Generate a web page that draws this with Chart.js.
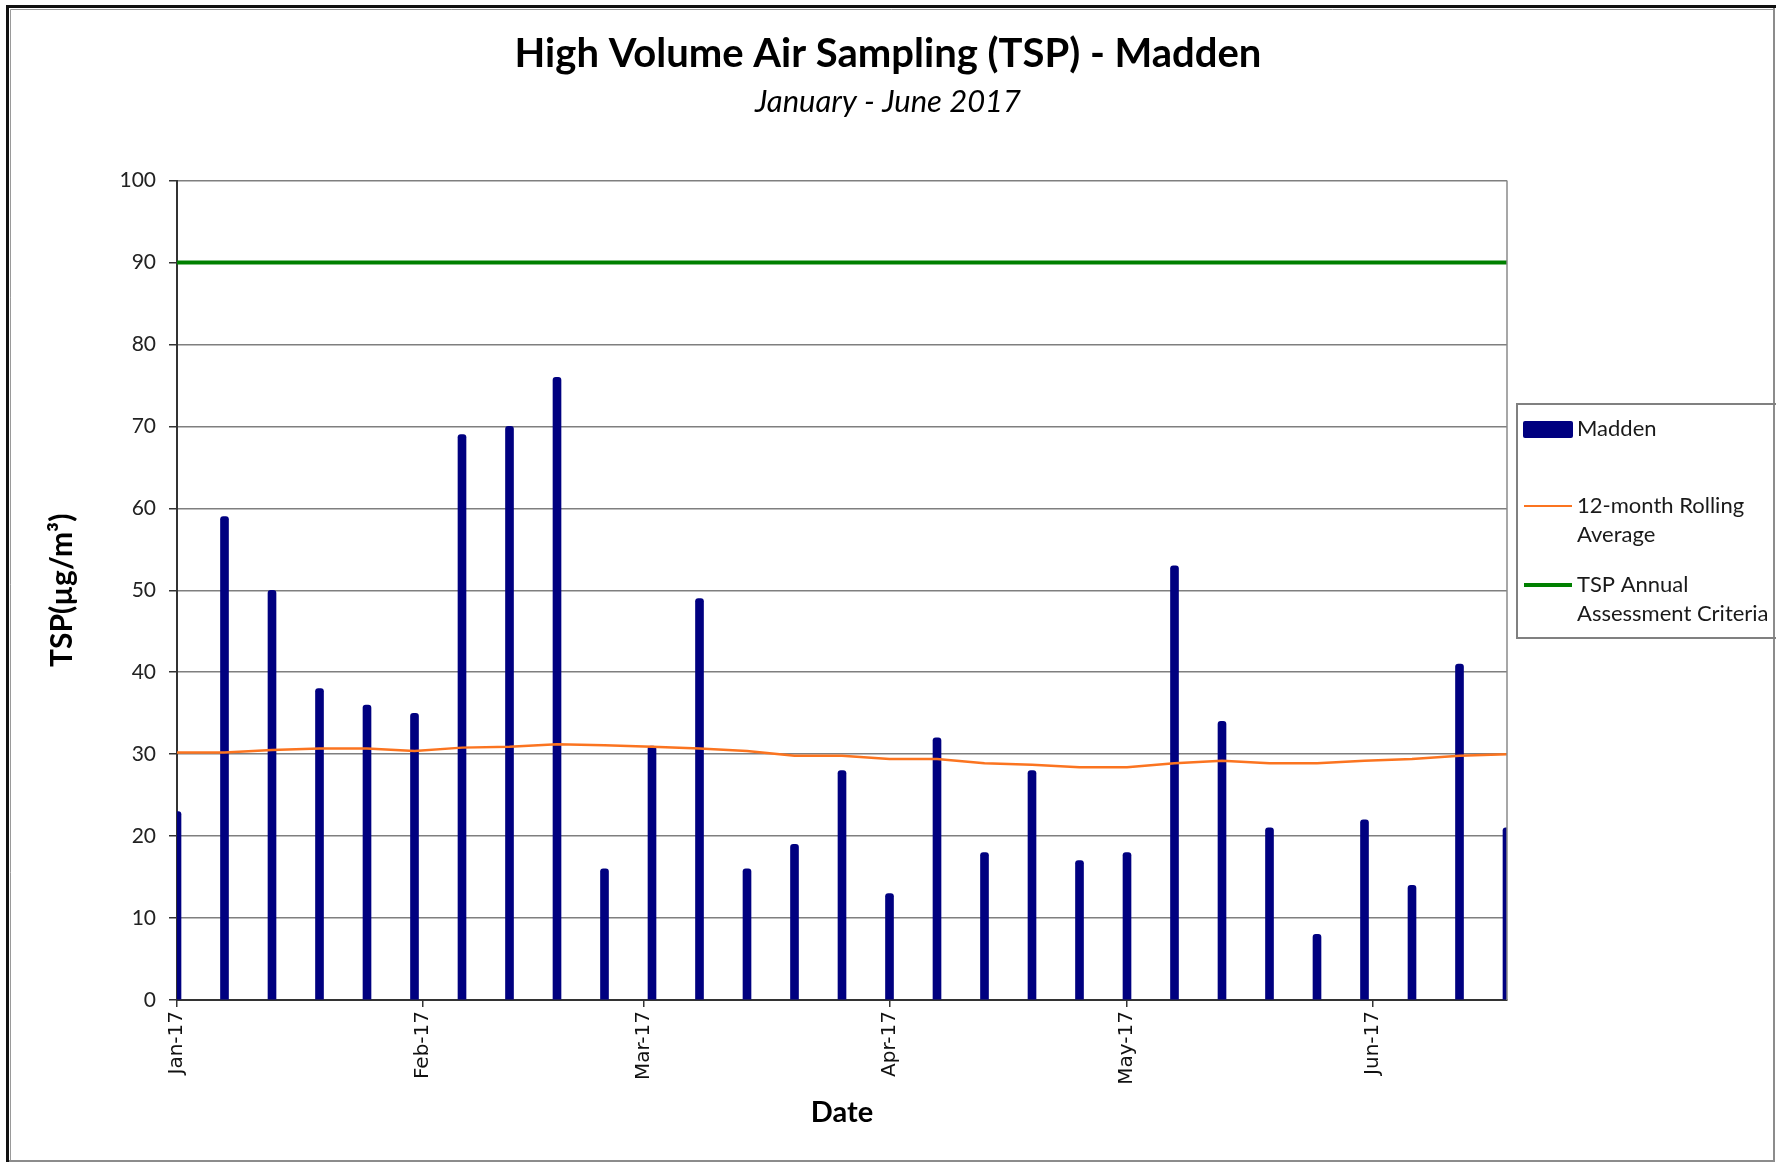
<!DOCTYPE html>
<html>
<head>
<meta charset="utf-8">
<script src="https://cdn.jsdelivr.net/npm/chart.js@4.4.1/dist/chart.umd.min.js"></script>
<style>
  html, body { margin: 0; padding: 0; background: #fff; }
  #wrap { position: relative; width: 1776px; height: 1163px; }
</style>
</head>
<body>
<div id="wrap"><canvas id="c"></canvas></div>
<script>
// ---- data ----
const sampleDates = ['2017-01-01','2017-01-07','2017-01-13','2017-01-19','2017-01-25','2017-01-31',
  '2017-02-06','2017-02-12','2017-02-18','2017-02-24','2017-03-02','2017-03-08','2017-03-14',
  '2017-03-20','2017-03-26','2017-04-01','2017-04-07','2017-04-13','2017-04-19','2017-04-25',
  '2017-05-01','2017-05-07','2017-05-13','2017-05-19','2017-05-25','2017-05-31','2017-06-06',
  '2017-06-12','2017-06-18'];
const maddenTSP = [23,59,50,38,36,35,69,70,76,16,31,49,16,19,28,13,32,18,28,17,18,53,34,21,8,22,14,41,21];
const rollingAvg = [30.2,30.2,30.5,30.7,30.7,30.4,30.8,30.9,31.2,31.1,30.9,30.7,30.4,29.8,29.8,
  29.4,29.4,28.9,28.7,28.4,28.4,28.9,29.2,28.9,28.9,29.2,29.4,29.8,30.0];
const criteriaValue = 90;
const monthTickDates = ['2017-01-01','2017-02-01','2017-03-01','2017-04-01','2017-05-01','2017-06-01'];
const monthTickLabels = ['Jan-17','Feb-17','Mar-17','Apr-17','May-17','Jun-17'];
const seriesNames = ['Madden', '12-month Rolling Average', 'TSP Annual Assessment Criteria'];
const legendLines = [['Madden'], ['12-month Rolling', 'Average'], ['TSP Annual', 'Assessment Criteria']];

// ---- helpers ----
const base = Date.UTC(2017, 0, 1);
function dayOf(s) {
  const p = s.split('-').map(Number);
  return (Date.UTC(p[0], p[1] - 1, p[2]) - base) / 86400000;
}
const xs = sampleDates.map(dayOf);
const monthTicks = monthTickDates.map(dayOf);
const xMin = xs[0], xMax = xs[xs.length - 1];

const NAVY = '#000080', ORANGE = '#fb7420', GREEN = '#008000';
const SANS = 'Lato, "Open Sans", sans-serif';

const framePlugin = {
  id: 'frame',
  beforeDraw(chart) {
    const ctx = chart.ctx;
    ctx.save();
    ctx.fillStyle = '#fff';
    ctx.fillRect(0, 0, chart.width, chart.height);
    ctx.restore();
  },
  afterDatasetsDraw(chart) {
    const ctx = chart.ctx, a = chart.chartArea;
    ctx.save();
    ctx.strokeStyle = '#8a8a8a';
    ctx.lineWidth = 1.5;
    ctx.beginPath();
    ctx.moveTo(a.right, a.top);
    ctx.lineTo(a.right, a.bottom);
    ctx.stroke();
    ctx.restore();
  },
  afterDraw(chart) {
    const ctx = chart.ctx;
    ctx.save();
    // outer frame
    ctx.strokeStyle = '#8c8c8c';
    ctx.lineWidth = 2;
    ctx.beginPath();
    ctx.moveTo(8, 1161); ctx.lineTo(1774, 1161); ctx.lineTo(1774, 7);
    ctx.stroke();
    ctx.strokeStyle = '#111';
    ctx.lineWidth = 3;
    ctx.beginPath();
    ctx.moveTo(7.5, 1162); ctx.lineTo(7.5, 6.5); ctx.lineTo(1776, 6.5);
    ctx.stroke();
    ctx.strokeStyle = '#9a9a9a';
    ctx.lineWidth = 1;
    ctx.beginPath();
    ctx.moveTo(10.5, 1160); ctx.lineTo(10.5, 9.5); ctx.lineTo(1773, 9.5);
    ctx.stroke();

    // legend
    const ds = chart.data.datasets;
    ctx.strokeStyle = '#808080';
    ctx.lineWidth = 2;
    ctx.strokeRect(1517, 404, 300, 234);
    ctx.font = '22px ' + SANS;
    ctx.textBaseline = 'middle';
    ctx.textAlign = 'left';
    const rowY = [429, 506, 585];
    const lh = 29;
    for (let i = 0; i < ds.length; i++) {
      const y = rowY[i];
      if (i === 0) {
        ctx.fillStyle = ds[0].backgroundColor;
        ctx.beginPath();
        ctx.roundRect(1523, y - 8, 50, 17, 2);
        ctx.fill();
      } else {
        ctx.strokeStyle = ds[i].borderColor;
        ctx.lineWidth = i === 2 ? 4 : 2;
        ctx.beginPath();
        ctx.moveTo(1524, y); ctx.lineTo(1572, y);
        ctx.stroke();
      }
      ctx.fillStyle = '#1a1a1a';
      legendLines[i].forEach((t, k) => ctx.fillText(t, 1577, y + k * lh));
    }
    ctx.restore();
  }
};

new Chart(document.getElementById('c'), {
  type: 'bar',
  data: {
    datasets: [
      {
        type: 'bar',
        label: seriesNames[0],
        data: xs.map((x, i) => ({ x: x, y: maddenTSP[i] })),
        backgroundColor: NAVY,
        borderColor: NAVY,
        barThickness: 8,
        borderRadius: { topLeft: 3, topRight: 3, bottomLeft: 0, bottomRight: 0 },
        borderSkipped: 'bottom',
        order: 2
      },
      {
        type: 'line',
        label: seriesNames[1],
        data: xs.map((x, i) => ({ x: x, y: rollingAvg[i] })),
        borderColor: ORANGE,
        backgroundColor: ORANGE,
        borderWidth: 2.5,
        pointRadius: 0,
        tension: 0,
        order: 1
      },
      {
        type: 'line',
        label: seriesNames[2],
        data: [{ x: xMin, y: criteriaValue }, { x: xMax, y: criteriaValue }],
        borderColor: GREEN,
        backgroundColor: GREEN,
        borderWidth: 4,
        pointRadius: 0,
        order: 0
      }
    ]
  },
  options: {
    responsive: true,
    maintainAspectRatio: false,
    animation: false,
    layout: { padding: 0 },
    plugins: {
      legend: { display: false },
      tooltip: { enabled: false },
      title: {
        display: true,
        text: 'High Volume Air Sampling (TSP) - Madden',
        color: '#000',
        font: { family: SANS, size: 40, weight: 'bold', lineHeight: 1.2 },
        padding: { top: 30, bottom: 5 }
      },
      subtitle: {
        display: true,
        text: 'January - June 2017',
        color: '#000',
        font: { family: SANS, size: 31, style: 'italic', lineHeight: 1.2 },
        padding: { top: 0, bottom: 60.4 }
      }
    },
    scales: {
      x: {
        type: 'linear',
        min: xMin,
        max: xMax,
        offset: false,
        afterFit(s) { s.height = 163; },
        afterBuildTicks(s) { s.ticks = monthTicks.map(v => ({ value: v })); },
        ticks: {
          autoSkip: false,
          minRotation: 90,
          maxRotation: 90,
          padding: 4,
          color: '#111',
          font: { family: '"DejaVu Sans", sans-serif', size: 20 },
          callback(v) {
            const k = monthTicks.indexOf(v);
            return k >= 0 ? monthTickLabels[k] : '';
          }
        },
        grid: { offset: false, drawOnChartArea: false, drawTicks: true, tickLength: 7, tickColor: '#333', lineWidth: 1.5 },
        border: { display: true, color: '#333', width: 2 },
        title: {
          display: true,
          text: 'Date',
          color: '#000',
          font: { family: SANS, size: 29, weight: 'bold', lineHeight: 1.2 },
          padding: { top: 0, bottom: 33 }
        }
      },
      y: {
        min: 0,
        max: 100,
        afterFit(s) { s.width = 177; },
        ticks: {
          stepSize: 10,
          padding: 13,
          color: '#222',
          font: { family: SANS, size: 21 }
        },
        grid: { color: '#7f7f7f', lineWidth: 1.5, tickLength: 8, tickColor: '#333' },
        border: { display: true, color: '#333', width: 2 },
        title: {
          display: true,
          text: 'TSP(µg/m³)',
          color: '#000',
          font: { family: SANS, size: 30, weight: 'bold', lineHeight: 1.2 },
          padding: { top: 44, bottom: 0 }
        }
      },
      yRight: {
        type: 'linear',
        position: 'right',
        display: true,
        min: 0,
        max: 100,
        afterFit(s) { s.width = 269; },
        ticks: { display: false },
        grid: { display: false, drawTicks: false },
        border: { display: false }
      }
    }
  },
  plugins: [framePlugin]
});
</script>
</body>
</html>
